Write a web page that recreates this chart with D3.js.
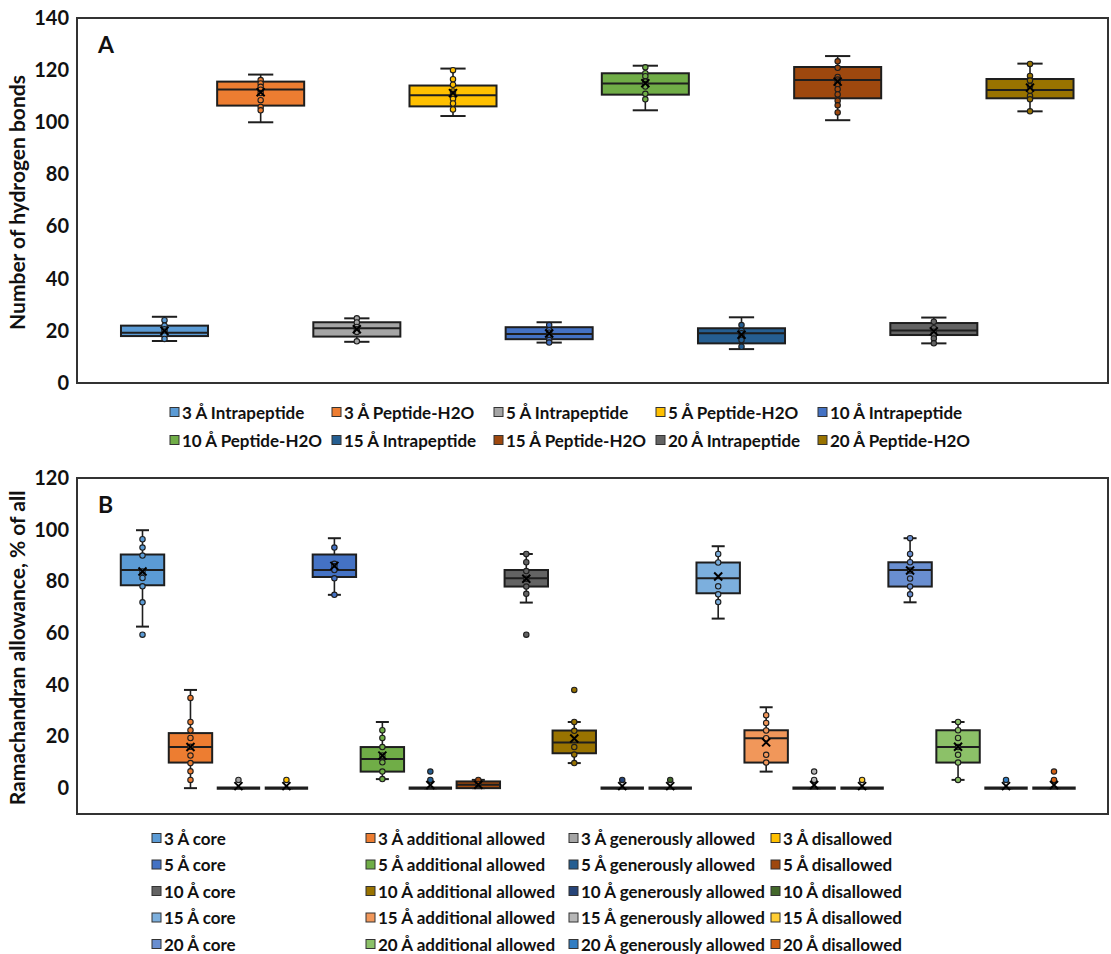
<!DOCTYPE html>
<html>
<head>
<meta charset="utf-8">
<script src="https://cdn.jsdelivr.net/npm/d3@7"></script>
<style>
  body { margin: 0; background: #fff; }
  text { font-family: Lato, "Open Sans", sans-serif; font-weight: 700; fill: #111; }
</style>
</head>
<body>
<svg id="chart" width="1111" height="954"></svg>
<script>
// ---- Panel A: number of hydrogen bonds ----
const hbCategories = ["3 Å Intrapeptide", "3 Å Peptide-H2O", "5 Å Intrapeptide", "5 Å Peptide-H2O",
  "10 Å Intrapeptide", "10 Å Peptide-H2O", "15 Å Intrapeptide", "15 Å Peptide-H2O",
  "20 Å Intrapeptide", "20 Å Peptide-H2O"];
const hbColors = ["#5B9BD5", "#ED7D31", "#A5A5A5", "#FFC000", "#4472C4",
  "#70AD47", "#255E91", "#9E480E", "#636363", "#997300"];
const hbLow    = [16.1, 100.0, 15.8, 102.4, 15.5, 104.6, 13.0, 100.8, 15.2, 104.2];
const hbQ1     = [18.0, 106.4, 17.8, 106.1, 16.8, 110.6, 15.2, 109.2, 18.4, 109.2];
const hbMedian = [19.3, 112.6, 21.0, 110.4, 18.8, 114.9, 19.1, 116.2, 20.1, 112.4];
const hbQ3     = [22.0, 115.6, 23.3, 114.1, 21.4, 118.8, 21.0, 121.2, 23.0, 116.6];
const hbHigh   = [25.4, 118.3, 24.8, 120.6, 23.3, 121.7, 25.2, 125.4, 25.1, 122.5];
const hbMean   = [20.0, 111.5, 20.6, 111.2, 19.0, 115.0, 18.5, 115.6, 19.8, 113.3];
const hbPoints = [
  [24.1, 22.0, 20.6, 19.8, 19.0, 18.2, 16.9],
  [116.2, 114.9, 113.6, 112.5, 111.2, 108.5, 105.9, 104.6],
  [24.8, 23.2, 21.5, 20.6, 19.6, 16.0],
  [120.0, 116.5, 114.4, 111.8, 110.9, 110.2, 109.0, 107.2, 104.9],
  [22.2, 20.3, 19.3, 18.4, 16.5, 15.5],
  [121.1, 118.8, 117.7, 115.6, 114.7, 113.7, 110.9, 108.8],
  [22.2, 20.1, 19.1, 17.8, 16.5, 13.9],
  [123.4, 120.9, 117.4, 116.4, 115.6, 114.6, 112.7, 110.7, 108.3, 106.5, 103.8],
  [23.5, 21.0, 19.7, 18.4, 17.1, 15.2],
  [122.4, 117.8, 116.0, 113.9, 112.1, 110.1, 108.8, 104.2]
];
const hbTicks = [0, 20, 40, 60, 80, 100, 120, 140];

// ---- Panel B: Ramachandran allowance ----
const ramaCategories = [
  "3 Å core", "3 Å additional allowed", "3 Å generously allowed", "3 Å disallowed",
  "5 Å core", "5 Å additional allowed", "5 Å generously allowed", "5 Å disallowed",
  "10 Å core", "10 Å additional allowed", "10 Å generously allowed", "10 Å disallowed",
  "15 Å core", "15 Å additional allowed", "15 Å generously allowed", "15 Å disallowed",
  "20 Å core", "20 Å additional allowed", "20 Å generously allowed", "20 Å disallowed"];
const ramaColors = [
  "#5B9BD5", "#ED7D31", "#A5A5A5", "#FFC000",
  "#4472C4", "#70AD47", "#255E91", "#9E480E",
  "#636363", "#997300", "#264478", "#43682B",
  "#7CAFDD", "#F1975A", "#B7B7B7", "#FFCD33",
  "#698ED0", "#8CC168", "#327DC2", "#D26012"];
const ramaLow    = [62.5, 0, 0, 0,  74.8, 3.5, 0, 0,    71.8, 9.7, 0, 0,   65.6, 6.4, 0, 0,   71.9, 3.2, 0, 0];
const ramaQ1     = [78.5, 9.9, 0, 0, 81.7, 6.4, 0, 0,   78.0, 13.5, 0, 0,  75.4, 9.9, 0, 0,   78.0, 9.9, 0, 0];
const ramaMedian = [84.4, 15.9, 0, 0, 84.4, 11.3, 0, 1.3, 81.2, 17.7, 0, 0, 81.2, 19.3, 0, 0,  84.4, 15.9, 0, 0];
const ramaQ3     = [90.4, 21.3, 0, 0, 90.4, 15.9, 0, 2.6, 84.4, 22.3, 0, 0, 87.3, 22.4, 0, 0,  87.4, 22.4, 0, 0];
const ramaHigh   = [99.8, 38.0, 0, 0, 96.7, 25.6, 0, 3.2, 90.6, 25.6, 0, 0, 93.6, 31.3, 0, 0,  96.7, 25.6, 0, 0];
const ramaMean   = [83.8, 15.9, 0.8, 0.8, 86.0, 12.6, 1.2, 1.3, 81.0, 19.2, 0.8, 0.8, 81.9, 17.7, 1.2, 0.8, 84.2, 16.0, 0.8, 1.2];
const ramaPoints = [
  [96.3, 93.1, 90.0, 83.8, 81.3, 78.1, 71.9, 59.4],
  [34.9, 25.6, 22.4, 19.4, 16.0, 12.6, 9.7, 6.5, 3.2],
  [3.2], [3.2],
  [93.1, 86.8, 85.9, 84.4, 81.2, 74.8],
  [22.4, 19.4, 15.9, 12.6, 10.0, 6.4, 3.5],
  [6.4, 3.2], [3.2, 1.6],
  [90.6, 87.4, 84.0, 81.0, 78.0, 75.2, 59.4],
  [38.0, 25.6, 22.2, 15.9, 13.0, 9.7],
  [3.2], [3.2],
  [90.6, 87.3, 78.1, 75.0, 72.0],
  [28.2, 25.2, 22.3, 19.3, 12.9, 9.9],
  [6.4, 3.2], [3.2],
  [96.7, 90.6, 87.4, 84.2, 81.1, 78.0, 75.0],
  [25.6, 22.4, 19.4, 15.9, 12.9, 9.9, 3.2],
  [3.2], [6.4, 3.2]
];
const ramaTicks = [0, 20, 40, 60, 80, 100, 120];

const svg = d3.select("#chart");
const INK = "#1e1e1e";

function drawPanel(opt) {
  const { left, right, top, bottom, domain, ticks, cats, colors,
          low, q1, med, q3, high, mean, points, firstC, lastC, capFrac,
          title, letter } = opt;
  const g = svg.append("g");
  const x = d3.scalePoint().domain(cats).range([firstC, lastC]);
  const y = d3.scaleLinear().domain(domain).range([bottom, top]);
  const bw = x.step() * 0.905;
  const cap = bw * capFrac;

  // frame around the plot area
  g.append("rect").attr("x", left).attr("y", top)
    .attr("width", right - left).attr("height", bottom - top)
    .attr("fill", "none").attr("stroke", "#333").attr("stroke-width", 2);

  // y axis labels
  const ax = g.append("g").attr("transform", `translate(${left},0)`)
    .call(d3.axisLeft(y).tickValues(ticks).tickSize(0).tickPadding(8));
  ax.select(".domain").remove();
  ax.selectAll("text").style("font-size", "20px").style("font-family", "Lato, sans-serif")
    .style("font-weight", 700).attr("fill", "#111");

  g.append("text").attr("transform", `translate(20,${(top + bottom) / 2 + 2}) rotate(-90)`)
    .attr("text-anchor", "middle").attr("dominant-baseline", "middle")
    .style("font-size", "21px").text(title);

  g.append("text").attr("x", left + 21).attr("y", top + 35)
    .style("font-size", "23px").text(letter);

  const boxes = g.selectAll("g.box").data(cats).join("g").attr("class", "box");
  boxes.each(function (c, i) {
    const b = d3.select(this);
    const cx = x(c);
    // whisker and caps
    b.append("line").attr("x1", cx).attr("x2", cx).attr("y1", y(high[i])).attr("y2", y(low[i]))
      .attr("stroke", INK).attr("stroke-width", 1.6);
    [low[i], high[i]].forEach(v => {
      b.append("line").attr("x1", cx - cap / 2).attr("x2", cx + cap / 2)
        .attr("y1", y(v)).attr("y2", y(v)).attr("stroke", INK).attr("stroke-width", 2);
    });
    const hBox = y(q1[i]) - y(q3[i]);
    if (hBox > 0.5) {
      b.append("rect").attr("x", cx - bw / 2).attr("y", y(q3[i]))
        .attr("width", bw).attr("height", hBox)
        .attr("fill", colors[i]).attr("stroke", INK).attr("stroke-width", 2);
      b.append("line").attr("x1", cx - bw / 2).attr("x2", cx + bw / 2)
        .attr("y1", y(med[i])).attr("y2", y(med[i])).attr("stroke", INK).attr("stroke-width", 2);
    } else {
      // collapsed box: quartiles and median coincide
      b.append("line").attr("x1", cx - bw / 2).attr("x2", cx + bw / 2)
        .attr("y1", y(med[i])).attr("y2", y(med[i])).attr("stroke", INK).attr("stroke-width", 3.2);
    }
    // inner points
    b.selectAll("circle").data(points[i]).join("circle")
      .attr("cx", cx).attr("cy", v => y(v)).attr("r", 2.7)
      .attr("fill", colors[i]).attr("stroke", INK).attr("stroke-width", 1.1);
    // mean marker
    const my = y(mean[i]), s = 4;
    b.append("path").attr("d", `M${cx - s},${my - s}L${cx + s},${my + s}M${cx - s},${my + s}L${cx + s},${my - s}`)
      .attr("stroke", "#000").attr("stroke-width", 2).attr("fill", "none");
  });
}

drawPanel({
  left: 77, right: 1108, top: 18, bottom: 383, domain: [0, 140], ticks: hbTicks,
  cats: hbCategories, colors: hbColors, low: hbLow, q1: hbQ1, med: hbMedian, q3: hbQ3,
  high: hbHigh, mean: hbMean, points: hbPoints, firstC: 164.5, lastC: 1030, capFrac: 0.29,
  title: "Number of hydrogen bonds", letter: "A"
});

drawPanel({
  left: 77, right: 1108, top: 478, bottom: 814, domain: [-10, 120], ticks: ramaTicks,
  cats: ramaCategories, colors: ramaColors, low: ramaLow, q1: ramaQ1, med: ramaMedian, q3: ramaQ3,
  high: ramaHigh, mean: ramaMean, points: ramaPoints, firstC: 142.5, lastC: 1054, capFrac: 0.3,
  title: "Ramachandran allowance, % of all", letter: "B"
});

// ---- legends ----
function marker(g, x, yMid, color) {
  g.append("rect").attr("x", x).attr("y", yMid - 4.5).attr("width", 9).attr("height", 9)
    .attr("fill", color).attr("stroke", "#333").attr("stroke-width", 1);
}

// Panel A legend: two rows of five entries
const legA = svg.append("g");
const rowYA = [412, 440];
hbCategories.forEach((c, i) => {
  const r = Math.floor(i / 5), k = i % 5;
  const xPos = 170 + k * 162;
  marker(legA, xPos, rowYA[r], hbColors[i]);
  legA.append("text").attr("x", xPos + 12).attr("y", rowYA[r])
    .attr("dominant-baseline", "central").style("font-size", "17px").text(c);
});

// Panel B legend: 4 columns x 5 rows
const legB = svg.append("g");
const colXB = [152, 366, 569, 771];
const rowYB = [838, 864.5, 891, 917.5, 944];
ramaCategories.forEach((c, i) => {
  const r = Math.floor(i / 4), k = i % 4;
  marker(legB, colXB[k], rowYB[r], ramaColors[i]);
  legB.append("text").attr("x", colXB[k] + 12).attr("y", rowYB[r])
    .attr("dominant-baseline", "central").style("font-size", "17px").text(c);
});
</script>
</body>
</html>
